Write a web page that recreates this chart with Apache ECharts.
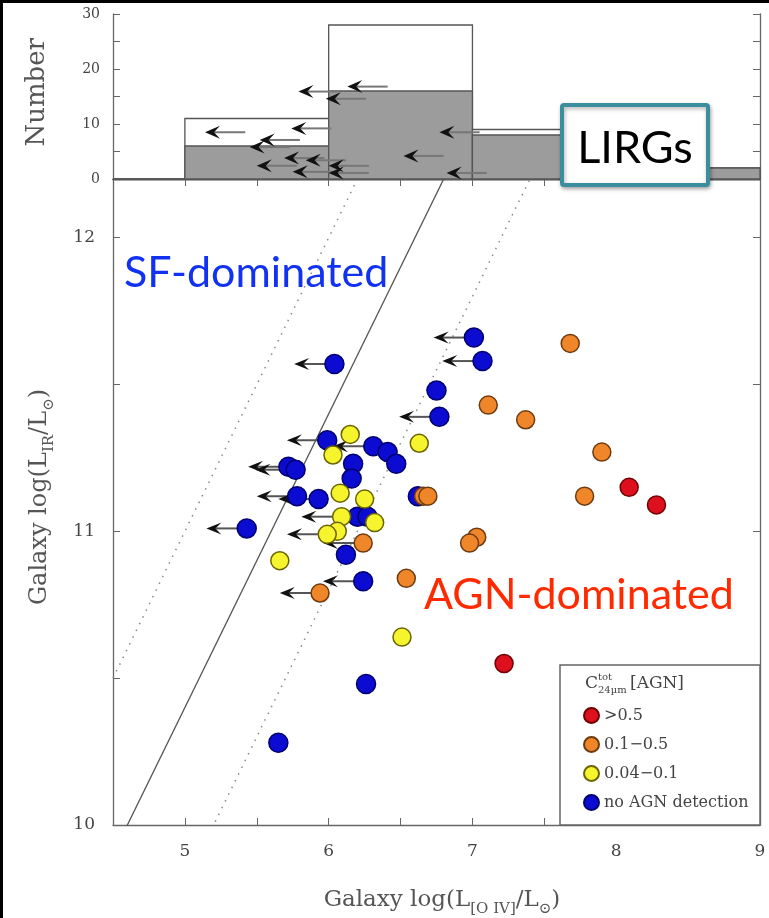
<!DOCTYPE html>
<html><head><meta charset="utf-8">
<script src="https://cdn.jsdelivr.net/npm/echarts@6/dist/echarts.min.js"></script>
<style>html,body{margin:0;padding:0;background:#fff}#c{width:769px;height:918px}</style>
</head><body><div id="c"></div>
<script>
// ---- data ----
const binEdges = [4.5, 5, 6, 7, 8, 9];
const totalCounts = [0, 11, 28, 9, 2];
const agnCounts = [0, 6, 16, 8, 2];
// histogram upper-limit arrows: [x, count]
const histArrows = [[5.42,8.5],[5.73,5.8],[5.80,7.1],[6.02,9.2],[6.07,15.9],[6.41,16.8],[6.26,14.6],[7.05,8.5],[6.80,4.2],[7.10,1.1],[5.78,2.4],[5.97,3.8],[6.12,3.4],[6.03,1.3],[6.28,2.4],[6.28,1.1]];
// scatter: [logL_OIV, logL_IR, upperLimitFlag]
const redPts = [[8.09,11.15,0],[8.28,11.09,0],[7.22,10.55,0]];
const orangePts = [[7.68,11.64,0],[7.11,11.43,0],[7.37,11.38,0],[7.90,11.27,0],[7.78,11.12,0],[6.66,11.12,0],[6.69,11.12,0],[7.03,10.98,0],[6.98,10.96,0],[6.24,10.96,1],[6.54,10.84,0],[5.94,10.79,1]];
const yellowPts = [[6.15,11.33,0],[6.03,11.26,0],[6.63,11.30,0],[6.08,11.13,0],[6.25,11.11,0],[6.09,11.05,1],[6.32,11.03,0],[6.06,11.00,0],[5.99,10.99,1],[5.66,10.90,0],[6.51,10.64,0]];
const noAgnPts = [[7.01,11.66,1],[7.07,11.58,1],[6.75,11.48,0],[6.77,11.39,1],[6.04,11.57,1],[5.99,11.31,1],[6.31,11.29,1],[6.41,11.27,0],[6.47,11.23,0],[6.17,11.23,0],[6.16,11.18,0],[5.72,11.22,1],[5.77,11.21,1],[5.78,11.12,1],[5.93,11.11,1],[6.20,11.05,0],[6.27,11.05,0],[6.62,11.12,0],[5.43,11.01,1],[6.12,10.92,0],[6.24,10.83,1],[6.26,10.48,0],[5.65,10.28,0]];
const lineOffsets = [6.0, 5.4, 4.8]; // y = x + offset
const legendNames = ['>0.5', '0.1\u22120.5', '0.04\u22120.1', 'no AGN detection'];
const ARROW_LEN = 0.28;

const X_MIN = 4.5, X_MAX = 9, Y_MIN = 10, Y_MAX = 12.2;
const SERIF = "'DejaVu Serif', serif";
const axisCol = '#666';

function makeArrow(h, w, shaft) {
  return function (params, api) {
    if (!api.value(2)) return null;
    const p = api.coord([api.value(0), api.value(1)]);
    const t = api.coord([api.value(0) - ARROW_LEN, api.value(1)]);
    return {type: 'group', children: [
      {type: 'line', shape: {x1: p[0], y1: p[1], x2: t[0] + h * 0.6, y2: t[1]}, style: {stroke: shaft, lineWidth: 2}},
      {type: 'polygon', shape: {points: [[t[0], t[1]], [t[0] + h, t[1] - w], [t[0] + h * 0.6, t[1]], [t[0] + h, t[1] + w]]}, style: {fill: '#111'}}
    ]};
  };
}
const histData = totalCounts.map((c, i) => [binEdges[i], binEdges[i + 1], c, agnCounts[i]]);
const arrowPts = [].concat(noAgnPts, yellowPts, orangePts, redPts).filter(p => p[2]);
const histArrowPts = histArrows.map(p => [p[0], p[1], 1]);

const chart = echarts.init(document.getElementById('c'));
const intLabel = v => (Math.abs(v - Math.round(v)) < 1e-9 ? String(Math.round(v)) : '');
const baseAxis = {axisLine: {show: true, lineStyle: {color: axisCol, width: 1.3}}, splitLine: {show: false},
  axisTick: {inside: true, length: 7, lineStyle: {color: axisCol}}};

function sty(fill, border) { return {color: fill, borderColor: border, borderWidth: 1.5, opacity: 1}; }
const titleRich = (big, small) => ({a: {font: big + 'px ' + SERIF, fill: '#555', verticalAlign: 'bottom'},
  s: {font: small + 'px ' + SERIF, fill: '#555', verticalAlign: 'bottom', padding: [0, 0, -5, 0]}});

chart.setOption({
  animation: false,
  backgroundColor: '#fff',
  grid: [
    {left: 113, right: 9, top: 14, height: 165},
    {left: 113, right: 9, top: 179, bottom: 93}
  ],
  xAxis: [
    Object.assign({}, baseAxis, {type: 'value', gridIndex: 0, min: X_MIN, max: X_MAX, interval: 0.5, axisLabel: {show: false}}),
    Object.assign({}, baseAxis, {type: 'value', gridIndex: 0, position: 'top', min: X_MIN, max: X_MAX, interval: 0.5, axisLabel: {show: false}}),
    Object.assign({}, baseAxis, {type: 'value', gridIndex: 1, min: X_MIN, max: X_MAX, interval: 0.5,
      axisLabel: {formatter: intLabel, margin: 18, fontFamily: SERIF, fontSize: 17, color: '#444'}}),
    Object.assign({}, baseAxis, {type: 'value', gridIndex: 1, position: 'top', min: X_MIN, max: X_MAX, interval: 0.5, axisLabel: {show: false}})
  ],
  yAxis: [
    Object.assign({}, baseAxis, {type: 'value', gridIndex: 0, min: 0, max: 30, interval: 5,
      axisLabel: {formatter: v => (v % 10 === 0 ? String(v) : ''), margin: 13, fontFamily: SERIF, fontSize: 14, color: '#444'}}),
    Object.assign({}, baseAxis, {type: 'value', gridIndex: 0, position: 'right', min: 0, max: 30, interval: 5, axisLabel: {show: false}}),
    Object.assign({}, baseAxis, {type: 'value', gridIndex: 1, min: Y_MIN, max: Y_MAX, interval: 0.5,
      axisLabel: {formatter: intLabel, margin: 18, fontFamily: SERIF, fontSize: 17, color: '#444'}}),
    Object.assign({}, baseAxis, {type: 'value', gridIndex: 1, position: 'right', min: Y_MIN, max: Y_MAX, interval: 0.5, axisLabel: {show: false}})
  ],
  legend: {
    data: legendNames, orient: 'vertical', left: 578, top: 702, itemGap: 12, itemWidth: 15, itemHeight: 15, z: 20,
    icon: 'circle', textStyle: {fontFamily: SERIF, fontSize: 16, color: '#444'}, selectedMode: false
  },
  series: [
    {type: 'custom', xAxisIndex: 0, yAxisIndex: 0, data: histData, silent: true, z: 2,
      renderItem: function (params, api) {
        const a = api.coord([api.value(0), 0]);
        const b = api.coord([api.value(1), api.value(2)]);
        const c = api.coord([api.value(1), api.value(3)]);
        return {type: 'group', children: [
          {type: 'rect', shape: {x: a[0], y: b[1], width: b[0] - a[0], height: a[1] - b[1]}, style: {fill: '#fff', stroke: '#555', lineWidth: 1.3}},
          {type: 'rect', shape: {x: a[0], y: c[1], width: c[0] - a[0], height: a[1] - c[1]}, style: {fill: '#9c9c9c', stroke: '#555', lineWidth: 1.3}}
        ]};
      }},
    {type: 'custom', xAxisIndex: 0, yAxisIndex: 0, data: histArrowPts, renderItem: makeArrow(15, 6.5, '#777'), silent: true, z: 3},
    {type: 'line', xAxisIndex: 2, yAxisIndex: 2, data: [[X_MIN, X_MIN + lineOffsets[0]], [X_MAX, X_MAX + lineOffsets[0]]],
      symbol: 'none', silent: true, lineStyle: {color: '#888', width: 1.5, type: [1.5, 6]}, z: 1},
    {type: 'line', xAxisIndex: 2, yAxisIndex: 2, data: [[X_MIN, X_MIN + lineOffsets[1]], [X_MAX, X_MAX + lineOffsets[1]]],
      symbol: 'none', silent: true, lineStyle: {color: '#555', width: 1.3}, z: 1},
    {type: 'line', xAxisIndex: 2, yAxisIndex: 2, data: [[X_MIN, X_MIN + lineOffsets[2]], [X_MAX, X_MAX + lineOffsets[2]]],
      symbol: 'none', silent: true, lineStyle: {color: '#888', width: 1.5, type: [1.5, 6]}, z: 1},
    {type: 'custom', xAxisIndex: 2, yAxisIndex: 2, data: arrowPts, renderItem: makeArrow(15, 6, '#555'), silent: true, z: 2},
    {name: legendNames[3], type: 'scatter', xAxisIndex: 2, yAxisIndex: 2, data: noAgnPts, symbolSize: 19, itemStyle: sty('#0b0bd2', '#00006e'), z: 4},
    {name: legendNames[2], type: 'scatter', xAxisIndex: 2, yAxisIndex: 2, data: yellowPts, symbolSize: 18, itemStyle: sty('#f6f42c', '#6a6400'), z: 5},
    {name: legendNames[1], type: 'scatter', xAxisIndex: 2, yAxisIndex: 2, data: orangePts, symbolSize: 18, itemStyle: sty('#f0862a', '#6e3a10'), z: 5},
    {name: legendNames[0], type: 'scatter', xAxisIndex: 2, yAxisIndex: 2, data: redPts, symbolSize: 18, itemStyle: sty('#de1020', '#700000'), z: 5}
  ],
  graphic: [
    // outer frame (left & top)
    {type: 'line', shape: {x1: 1.5, y1: 0, x2: 1.5, y2: 918}, style: {stroke: '#000', lineWidth: 3}, z: 100},
    {type: 'line', shape: {x1: 0, y1: 1.5, x2: 769, y2: 1.5}, style: {stroke: '#000', lineWidth: 3}, z: 100},
    // legend box
    {type: 'rect', shape: {x: 560, y: 665, width: 200, height: 160}, style: {fill: '#fff', stroke: '#666', lineWidth: 1.5}, z: 6},
    {type: 'text', left: 585, top: 675, style: {text: 'C', font: '17px ' + SERIF, fill: '#444'}, z: 7},
    {type: 'text', left: 598, top: 672, style: {text: 'tot', font: '10px ' + SERIF, fill: '#444'}, z: 7},
    {type: 'text', left: 598, top: 685, style: {text: '24\u00b5m', font: '10px ' + SERIF, fill: '#444'}, z: 7},
    {type: 'text', left: 630, top: 675, style: {text: '[AGN]', font: '17px ' + SERIF, fill: '#444'}, z: 7},
    // axis titles
    {type: 'text', left: 24, top: 38, rotation: Math.PI / 2, style: {text: 'Number', font: '26px ' + SERIF, fill: '#555'}},
    {type: 'text', x: 40, y: 497, rotation: Math.PI / 2,
      style: {text: '{a|Galaxy log(L}{s|IR}{a|/L}{s|\u2299}{a|)}', align: 'center', verticalAlign: 'middle', rich: titleRich(24, 15)}},
    {type: 'text', x: 442, y: 900,
      style: {text: '{a|Galaxy log(L}{s|[O IV]}{a|/L}{s|\u2299}{a|)}', align: 'center', verticalAlign: 'middle', rich: titleRich(23, 15)}},
    // annotations
    {type: 'text', left: 124, top: 252, style: {text: 'SF-dominated', font: '43px Lato, sans-serif', fill: '#1232f2'}, z: 20},
    {type: 'text', left: 424, top: 574, style: {text: 'AGN-dominated', font: '43px Lato, sans-serif', fill: '#ff2a00'}, z: 20},
    {type: 'rect', shape: {x: 562, y: 105, width: 146, height: 80, r: 2}, style: {fill: '#fff', stroke: '#3a8e9e', lineWidth: 4,
      shadowBlur: 4, shadowColor: 'rgba(0,0,0,0.3)', shadowOffsetX: 1, shadowOffsetY: 2}, z: 20},
    {type: 'text', x: 635, y: 148, style: {text: 'LIRGs', font: '45px Lato, sans-serif', fill: '#000', align: 'center', verticalAlign: 'middle'}, z: 21}
  ]
});
</script></body></html>
